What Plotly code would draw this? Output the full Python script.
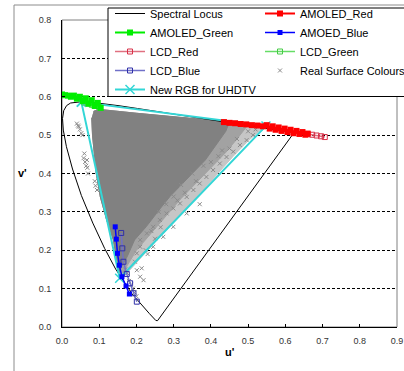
import plotly.graph_objects as go

# ---------------- data (u', v') ----------------
locus_u = [0.2568, 0.2522, 0.2347, 0.2161, 0.1877, 0.1441, 0.1147, 0.0828, 0.0521, 0.0282,
           0.0119, 0.0035, 0.0014, 0.0046, 0.0123, 0.0231, 0.0360, 0.0501, 0.0792, 0.1127,
           0.1531, 0.2026, 0.2623, 0.3315, 0.4035, 0.5203, 0.6005, 0.6234, 0.2568]
locus_v = [0.0166, 0.0169, 0.0350, 0.0549, 0.0871, 0.1510, 0.2044, 0.2708, 0.3427, 0.4117,
           0.4698, 0.5131, 0.5432, 0.5638, 0.5770, 0.5837, 0.5861, 0.5868, 0.5856, 0.5821,
           0.5766, 0.5694, 0.5604, 0.5501, 0.5393, 0.5219, 0.5099, 0.5065, 0.0166]

amoled_red_u = [0.435, 0.450, 0.465, 0.480, 0.495, 0.510, 0.525, 0.540, 0.550, 0.558,
                0.566, 0.574, 0.582, 0.590, 0.598, 0.606, 0.614, 0.622, 0.630, 0.638,
                0.646, 0.654, 0.660]
amoled_red_v = [0.534, 0.532, 0.531, 0.529, 0.528, 0.526, 0.525, 0.523, 0.526, 0.517,
                0.523, 0.514, 0.520, 0.511, 0.517, 0.508, 0.514, 0.505, 0.511, 0.503,
                0.508, 0.501, 0.504]

amoled_green_u = [0.000, 0.008, 0.016, 0.024, 0.032, 0.040, 0.048, 0.056, 0.064, 0.072,
                  0.080, 0.088, 0.096, 0.104]
amoled_green_v = [0.606, 0.604, 0.603, 0.600, 0.603, 0.595, 0.600, 0.589, 0.596, 0.582,
                  0.591, 0.576, 0.584, 0.571]

amoled_blue_u = [0.143, 0.146, 0.149, 0.154, 0.161, 0.172, 0.181]
amoled_blue_v = [0.261, 0.229, 0.192, 0.161, 0.131, 0.107, 0.086]

lcd_red_u = [0.660, 0.672, 0.684, 0.696, 0.706]
lcd_red_v = [0.503, 0.501, 0.499, 0.497, 0.495]

lcd_green_u = [0.060, 0.070, 0.080, 0.090, 0.100]
lcd_green_v = [0.585, 0.582, 0.579, 0.576, 0.573]

lcd_blue_u = [0.159, 0.162, 0.165, 0.174, 0.183, 0.192, 0.201]
lcd_blue_v = [0.245, 0.205, 0.170, 0.138, 0.114, 0.088, 0.066]

uhdtv_u = [0.052, 0.548, 0.155, 0.052]
uhdtv_v = [0.586, 0.524, 0.127, 0.586]

# real surface colour cloud: density zones (outlines)
cloud_top_u = [0.085, 0.100, 0.200, 0.300, 0.400]
cloud_top_v = [0.562, 0.567, 0.557, 0.548, 0.538]
cloud_left_u = [0.152, 0.147, 0.138, 0.120, 0.103, 0.092, 0.086, 0.082, 0.080]
cloud_left_v = [0.140, 0.174, 0.227, 0.279, 0.339, 0.400, 0.450, 0.500, 0.545]

sparse_right_u = [0.470, 0.530, 0.535, 0.500, 0.460, 0.420, 0.380, 0.320, 0.260, 0.210,
                  0.180, 0.165]
sparse_right_v = [0.530, 0.522, 0.515, 0.485, 0.445, 0.402, 0.358, 0.293, 0.232, 0.178,
                  0.145, 0.130]
medium_right_u = [0.470, 0.500, 0.470, 0.440, 0.400, 0.360, 0.320, 0.280, 0.240, 0.200,
                  0.175, 0.165]
medium_right_v = [0.530, 0.527, 0.490, 0.455, 0.415, 0.375, 0.335, 0.290, 0.245, 0.200,
                  0.160, 0.140]
dense_right_u = [0.450, 0.440, 0.410, 0.385, 0.350, 0.320, 0.290, 0.265, 0.226, 0.195,
                 0.175, 0.160]
dense_right_v = [0.535, 0.510, 0.470, 0.435, 0.400, 0.370, 0.340, 0.310, 0.261, 0.227,
                 0.183, 0.157]

# scattered real surface colours
surf_u = [0.040, 0.045, 0.048, 0.043, 0.052, 0.055, 0.058, 0.062, 0.065, 0.068,
          0.060, 0.070, 0.067, 0.088, 0.094, 0.090,
          0.370, 0.388, 0.406, 0.424, 0.442, 0.460, 0.478, 0.496, 0.513, 0.353,
          0.335, 0.317, 0.299, 0.281, 0.263, 0.245, 0.228, 0.210, 0.210, 0.201,
          0.196, 0.201, 0.210, 0.219, 0.214, 0.245, 0.272, 0.299, 0.335, 0.370,
          0.350, 0.320, 0.400, 0.300, 0.280, 0.260, 0.380, 0.430, 0.470, 0.500,
          0.520, 0.170, 0.175, 0.180, 0.185, 0.190, 0.195, 0.200, 0.230, 0.250,
          0.330, 0.360, 0.420, 0.450, 0.310, 0.265, 0.240, 0.225]
surf_v = [0.530, 0.522, 0.515, 0.525, 0.505, 0.500, 0.440, 0.430, 0.420, 0.415,
          0.452, 0.400, 0.435, 0.380, 0.357, 0.368,
          0.374, 0.391, 0.409, 0.426, 0.443, 0.457, 0.474, 0.487, 0.500, 0.357,
          0.339, 0.322, 0.309, 0.296, 0.279, 0.261, 0.244, 0.227, 0.209, 0.192,
          0.170, 0.148, 0.131, 0.122, 0.153, 0.209, 0.235, 0.261, 0.296, 0.320,
          0.400, 0.370, 0.430, 0.340, 0.320, 0.300, 0.420, 0.460, 0.490, 0.510,
          0.515, 0.150, 0.140, 0.120, 0.110, 0.100, 0.090, 0.080, 0.190, 0.230,
          0.350, 0.380, 0.445, 0.465, 0.330, 0.260, 0.250, 0.200]

# ---------------- figure ----------------
fig = go.Figure()

for right_u, right_v, col in [(sparse_right_u, sparse_right_v, "#c6c6c6"),
                              (medium_right_u, medium_right_v, "#a2a2a2"),
                              (dense_right_u, dense_right_v, "#818181")]:
    fig.add_trace(go.Scatter(x=cloud_top_u + right_u + cloud_left_u,
                             y=cloud_top_v + right_v + cloud_left_v,
                             mode="lines", fill="toself", fillcolor=col,
                             line=dict(color=col, width=1), showlegend=False,
                             legendgroup="surf", hoverinfo="skip"))

fig.add_trace(go.Scatter(x=surf_u, y=surf_v, mode="markers", name="Real Surface Colours",
                         marker=dict(symbol="x-thin", size=4, line=dict(color="#8a8a8a", width=1)),
                         legend="legend2", legendrank=4, legendgroup="surf"))
fig.add_trace(go.Scatter(x=locus_u, y=locus_v, mode="lines", name="Spectral Locus",
                         line=dict(color="#000000", width=1), legend="legend", legendrank=1))
fig.add_trace(go.Scatter(x=uhdtv_u, y=uhdtv_v, mode="lines+markers", name="New RGB for UHDTV",
                         line=dict(color="#33d6d6", width=2),
                         marker=dict(symbol="x-thin", size=9, line=dict(color="#33d6d6", width=1.5)),
                         legend="legend", legendrank=5))
fig.add_trace(go.Scatter(x=lcd_green_u, y=lcd_green_v, mode="lines+markers", name="LCD_Green",
                         line=dict(color="#66dd66", width=1.5),
                         marker=dict(symbol="square-open", size=5, color="#44cc44"),
                         legend="legend2", legendrank=3))
fig.add_trace(go.Scatter(x=amoled_green_u, y=amoled_green_v, mode="lines+markers", name="AMOLED_Green",
                         line=dict(color="#00ee00", width=2),
                         marker=dict(symbol="square", size=6, color="#00ee00"),
                         legend="legend", legendrank=2))
fig.add_trace(go.Scatter(x=lcd_red_u, y=lcd_red_v, mode="lines+markers", name="LCD_Red",
                         line=dict(color="#e07080", width=1.5),
                         marker=dict(symbol="square-open", size=5, color="#d83048"),
                         legend="legend", legendrank=3))
fig.add_trace(go.Scatter(x=amoled_red_u, y=amoled_red_v, mode="lines+markers", name="AMOLED_Red",
                         line=dict(color="#ff0000", width=2),
                         marker=dict(symbol="square", size=6, color="#ff0000"),
                         legend="legend2", legendrank=1))
fig.add_trace(go.Scatter(x=lcd_blue_u, y=lcd_blue_v, mode="lines+markers", name="LCD_Blue",
                         line=dict(color="#7070c8", width=1.5),
                         marker=dict(symbol="square-open", size=5, color="#3030a8"),
                         legend="legend", legendrank=4))
fig.add_trace(go.Scatter(x=amoled_blue_u, y=amoled_blue_v, mode="lines+markers", name="AMOED_Blue",
                         line=dict(color="#0000ff", width=1.5),
                         marker=dict(symbol="square", size=5, color="#0000ff"),
                         legend="legend2", legendrank=2))

W, H = 404, 371
L, R, T, B = 62, 7, 20, 44
pw, ph = W - L - R, H - T - B


def px2x(px):
    return (px - L) / pw


def py2y(py):
    return (H - B - py) / ph


font = "Liberation Sans, Arial, sans-serif"
legend_common = dict(bgcolor="rgba(0,0,0,0)", borderwidth=0, xanchor="left", yanchor="top",
                     font=dict(family=font, size=11, color="#000000"),
                     traceorder="normal", tracegroupgap=0)

fig.update_layout(
    width=W, height=H, margin=dict(l=L, r=R, t=T, b=B, autoexpand=False),
    paper_bgcolor="white", plot_bgcolor="white",
    font=dict(family=font, size=9, color="#333333"),
    xaxis=dict(range=[0, 0.9], dtick=0.1, tickformat=".1f", showgrid=False, zeroline=False,
               showline=True, linecolor="#000000", linewidth=1,
               ticks="inside", ticklen=3, tickcolor="#000000", automargin=False,
               tickfont=dict(size=9, color="#333333"), ticklabelstandoff=5),
    yaxis=dict(range=[0, 0.8], dtick=0.1, tickformat=".1f", showgrid=True, gridcolor="#000000",
               gridwidth=1, griddash="3px,2px", zeroline=False,
               showline=True, linecolor="#000000", linewidth=1,
               ticks="inside", ticklen=3, tickcolor="#000000", automargin=False,
               tickfont=dict(size=9, color="#333333"), ticklabelstandoff=8),
    legend=dict(x=px2x(110), y=py2y(-1), **legend_common),
    legend2=dict(x=px2x(260), y=py2y(-1), **legend_common),
    shapes=[
        # outer chart frame
        dict(type="rect", xref="paper", yref="paper", x0=px2x(14), x1=px2x(420),
             y0=py2y(400), y1=py2y(5), line=dict(color="#8c8c8c", width=1), layer="below"),
        # plot area border
        dict(type="rect", xref="paper", yref="paper", x0=0, x1=1, y0=0, y1=1,
             line=dict(color="#808080", width=1), layer="below"),
        # legend box
        dict(type="rect", xref="paper", yref="paper", x0=px2x(108), x1=px2x(420),
             y0=py2y(96.5), y1=py2y(8), line=dict(color="#000000", width=1),
             fillcolor="white", layer="above"),
    ],
    annotations=[
        dict(text="<b>u'</b>", xref="paper", yref="paper", x=0.5, y=py2y(352),
             showarrow=False, xanchor="center", yanchor="middle",
             font=dict(family=font, size=11, color="#000000")),
        dict(text="<b>v'</b>", xref="paper", yref="paper", x=px2x(22), y=py2y(173),
             showarrow=False, xanchor="center", yanchor="middle",
             font=dict(family=font, size=11, color="#000000")),
    ],
)

fig.write_html("out.html")
